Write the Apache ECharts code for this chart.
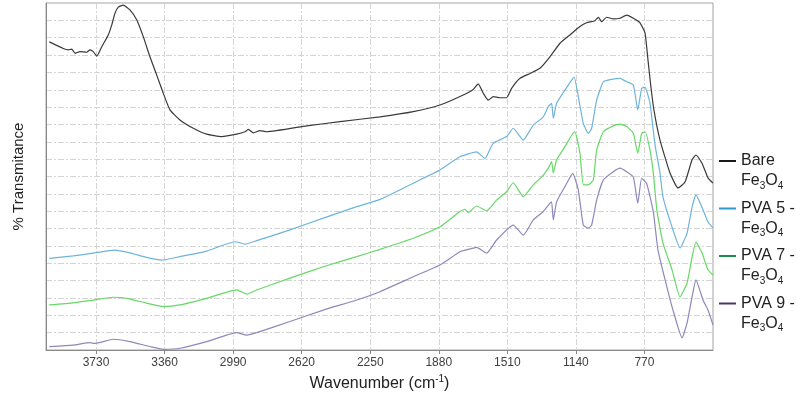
<!DOCTYPE html>
<html>
<head>
<meta charset="utf-8">
<script src="https://cdn.jsdelivr.net/npm/echarts@6/dist/echarts.min.js"></script>
<style>
  html, body { margin: 0; padding: 0; background: #fff; }
  #chart { width: 810px; height: 405px; }
</style>
</head>
<body>
<div id="chart"></div>
<script>
// FTIR spectra: wavenumber (cm-1) and relative transmittance for each sample
const xTickLabels = [3730, 3360, 2990, 2620, 2250, 1880, 1510, 1140, 770];

const bareWn = [3982, 3907, 3880, 3861, 3843, 3817, 3780, 3763, 3745, 3726, 3699, 3664, 3645, 3628, 3610, 3583, 3547, 3510, 3475, 3439, 3403, 3367, 3331, 3277, 3205, 3133, 3052, 2971, 2926, 2908, 2881, 2845, 2809, 2593, 2413, 2197, 2018, 1874, 1748, 1694, 1667, 1640, 1613, 1586, 1550, 1514, 1487, 1442, 1388, 1334, 1280, 1226, 1172, 1118, 1082, 1037, 1019, 1001, 974, 938, 902, 866, 830, 794, 767, 751, 735, 719, 686, 632, 589, 551, 513, 492, 460, 427, 400];
const bareT  = [88.8, 86.9, 86.5, 86.7, 85.5, 86.0, 85.8, 86.5, 86.0, 84.7, 87.4, 90.8, 93.7, 97.0, 98.8, 99.4, 98.0, 95.1, 90.3, 84.5, 79.3, 74.0, 69.2, 66.3, 63.9, 62.2, 61.5, 62.2, 62.9, 63.6, 62.6, 63.2, 62.9, 64.6, 65.8, 67.2, 68.7, 70.6, 73.5, 75.1, 76.7, 74.0, 72.0, 73.0, 72.7, 72.7, 75.4, 78.3, 79.7, 81.2, 84.5, 88.4, 90.8, 93.2, 94.3, 94.9, 95.9, 94.6, 95.9, 95.4, 95.6, 96.5, 95.6, 94.3, 91.4, 83.6, 75.8, 69.2, 60.5, 51.0, 46.7, 48.4, 54.8, 56.2, 53.9, 49.6, 48.1];

const pva5Wn = [3982, 3853, 3745, 3628, 3547, 3457, 3376, 3277, 3133, 2980, 2953, 2926, 2863, 2683, 2503, 2323, 2197, 1964, 1874, 1766, 1676, 1631, 1586, 1514, 1478, 1424, 1370, 1316, 1289, 1271, 1262, 1244, 1199, 1163, 1149, 1127, 1100, 1073, 1055, 1028, 992, 947, 902, 866, 830, 806, 785, 767, 740, 713, 686, 670, 621, 578, 540, 513, 492, 460, 427, 400];
const pva5T  = [26.4, 27.1, 27.9, 28.8, 28.0, 26.7, 25.9, 26.9, 28.5, 31.2, 30.9, 30.5, 31.5, 34.6, 38.0, 41.3, 43.4, 49.5, 51.9, 55.7, 57.1, 55.2, 59.6, 61.5, 63.9, 60.5, 64.8, 67.2, 70.1, 71.1, 66.8, 71.1, 74.9, 77.8, 78.6, 73.0, 65.3, 62.4, 63.9, 72.0, 77.3, 78.0, 78.3, 77.3, 76.4, 69.2, 75.4, 75.7, 71.1, 59.1, 51.0, 44.1, 35.4, 29.4, 33.7, 41.2, 44.7, 41.2, 36.9, 35.2];

const pva7Wn = [3982, 3853, 3745, 3637, 3564, 3457, 3367, 3277, 3133, 2971, 2917, 2863, 2683, 2503, 2323, 2197, 2018, 1874, 1766, 1739, 1721, 1676, 1622, 1568, 1514, 1478, 1424, 1370, 1316, 1289, 1271, 1262, 1244, 1199, 1157, 1145, 1118, 1100, 1073, 1046, 1028, 992, 938, 902, 866, 830, 806, 785, 767, 740, 722, 703, 670, 621, 578, 540, 513, 492, 460, 427, 400];
const pva7T  = [13.0, 13.6, 14.4, 15.2, 14.9, 13.5, 12.5, 13.0, 14.9, 17.3, 16.1, 17.3, 20.7, 24.0, 26.9, 29.0, 32.2, 35.5, 39.9, 40.5, 39.6, 41.5, 40.1, 43.2, 45.6, 48.2, 44.2, 47.6, 50.4, 52.4, 54.3, 51.0, 54.8, 58.6, 62.4, 62.9, 56.7, 47.6, 47.6, 49.0, 57.6, 62.9, 64.6, 65.1, 64.4, 62.5, 56.7, 62.4, 62.9, 57.6, 50.9, 40.3, 30.8, 23.1, 15.3, 19.3, 26.8, 31.1, 28.0, 23.1, 21.6];

const pva9Wn = [3982, 3853, 3763, 3736, 3637, 3547, 3439, 3367, 3277, 3133, 2971, 2917, 2863, 2683, 2503, 2323, 2197, 2018, 1874, 1766, 1721, 1676, 1622, 1568, 1478, 1424, 1370, 1316, 1280, 1271, 1262, 1244, 1199, 1157, 1127, 1100, 1073, 1055, 1028, 992, 938, 902, 866, 830, 806, 785, 758, 722, 697, 649, 616, 567, 540, 513, 492, 454, 427, 400];
const pva9T  = [1.0, 1.4, 2.1, 1.9, 3.1, 2.4, 1.0, 0.2, 0.5, 2.4, 5.0, 4.3, 5.0, 8.2, 11.5, 14.4, 16.8, 21.1, 24.5, 28.3, 29.0, 29.6, 27.9, 31.7, 36.0, 33.1, 37.5, 39.9, 42.3, 42.7, 37.5, 42.7, 47.1, 50.9, 46.1, 36.0, 35.1, 36.0, 43.2, 49.0, 51.4, 52.4, 51.4, 49.9, 42.3, 49.5, 48.0, 39.8, 28.8, 18.2, 11.5, 3.5, 7.8, 15.3, 20.2, 14.4, 11.5, 7.2];

const seriesNames = ['Bare Fe3O4', 'PVA 5 - Fe3O4', 'PVA 7 - Fe3O4', 'PVA 9 - Fe3O4'];
const legendLines = {
  'Bare Fe3O4': 'Bare\nFe{sub|3}O{sub|4}',
  'PVA 5 - Fe3O4': 'PVA 5 -\nFe{sub|3}O{sub|4}',
  'PVA 7 - Fe3O4': 'PVA 7 -\nFe{sub|3}O{sub|4}',
  'PVA 9 - Fe3O4': 'PVA 9 -\nFe{sub|3}O{sub|4}'
};
const lineColors = ['#3a3a3a', '#6db4dc', '#66d866', '#8d88ba'];
const legendColors = ['#1a1a1a', '#2f9bd0', '#1d8c4c', '#4d306f'];

function pairs(xs, ys) { return xs.map((x, i) => [x, ys[i]]); }
const seriesData = [pairs(bareWn, bareT), pairs(pva5Wn, pva5T), pairs(pva7Wn, pva7T), pairs(pva9Wn, pva9T)];

const gridLine = { show: true, lineStyle: { color: '#d4d4d4', width: 1, type: [6, 2, 2, 2] } };

const chart = echarts.init(document.getElementById('chart'), null, { renderer: 'canvas' });
chart.setOption({
  animation: false,
  backgroundColor: '#fff',
  textStyle: { fontFamily: 'Liberation Sans, Arial, sans-serif' },
  grid: { left: 46, right: 97, top: 3, bottom: 55, show: true, borderColor: '#a3a3a3', borderWidth: 1 },
  xAxis: {
    type: 'value', min: 400, max: 4000, interval: 185, inverse: true,
    axisLine: { show: true, lineStyle: { color: '#8a8a8a' } },
    axisTick: { show: true, length: 4, customValues: xTickLabels, lineStyle: { color: '#8a8a8a' } },
    axisLabel: { customValues: xTickLabels, formatter: v => String(v), color: '#404040', fontSize: 12, margin: 7 },
    splitLine: gridLine,
    name: 'Wavenumber (cm{sup|-1})',
    nameLocation: 'middle', nameGap: 24,
    nameTextStyle: {
      fontSize: 16, color: '#222', lineHeight: 20,
      rich: { sup: { fontSize: 10, lineHeight: 10, verticalAlign: 'top', color: '#222' } }
    }
  },
  yAxis: {
    type: 'value', min: 0, max: 100, interval: 5,
    axisLine: { show: true, lineStyle: { color: '#8a8a8a' } },
    axisTick: { show: false },
    axisLabel: { show: false },
    splitLine: gridLine,
    name: '% Transmitance', nameLocation: 'middle', nameGap: 20,
    nameTextStyle: { fontSize: 15, color: '#222' }
  },
  legend: {
    orient: 'vertical', left: 719, top: 131, padding: 0,
    icon: 'rect', itemWidth: 17, itemHeight: 2, itemGap: -12.5,
    formatter: name => legendLines[name],
    textStyle: {
      fontSize: 16, color: '#222', lineHeight: 20, padding: [20, 0, 0, 0],
      rich: { sub: { fontSize: 10, lineHeight: 12, verticalAlign: 'bottom', color: '#222' } }
    },
    data: seriesNames.map((n, i) => ({ name: n, itemStyle: { color: legendColors[i] } }))
  },
  series: seriesNames.map((n, i) => ({
    name: n, type: 'line', data: seriesData[i], showSymbol: false, smooth: 0.15,
    lineStyle: { color: lineColors[i], width: 1.2 }, itemStyle: { color: lineColors[i] },
    z: 4 - i
  }))
});
</script>
</body>
</html>
